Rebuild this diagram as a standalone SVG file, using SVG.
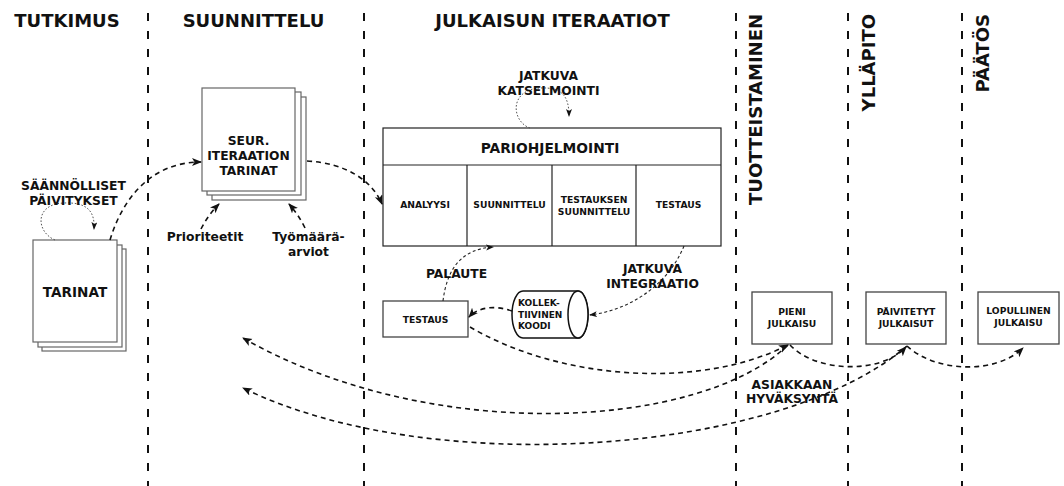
<svg xmlns="http://www.w3.org/2000/svg" width="1064" height="486" viewBox="0 0 1064 486">
<style>
text{font-family:"DejaVu Sans","Verdana",sans-serif;font-weight:bold;fill:#111}
.title{font-size:18px}
.t12{font-size:12.3px;text-anchor:middle}
.t9{font-size:9.2px;text-anchor:middle}
.lane{stroke:#111;stroke-width:2;stroke-dasharray:8,10;fill:none}
.box{fill:#fff;stroke:#444;stroke-width:1.3}
.sheet{fill:#fff;stroke:#666;stroke-width:1.2}
.tbl{fill:#fff;stroke:#222;stroke-width:1.2}
.dash{fill:none;stroke:#111;stroke-width:1.6;stroke-dasharray:5,4;marker-end:url(#ah)}
.fine{fill:none;stroke:#222;stroke-width:1.1;stroke-dasharray:3,2.5;marker-end:url(#ahs)}
.dot{fill:none;stroke:#555;stroke-width:1;stroke-dasharray:1.6,1.8;marker-end:url(#ahs)}
</style>
<defs>
<marker id="ah" markerUnits="userSpaceOnUse" markerWidth="12" markerHeight="10" refX="9" refY="4" orient="auto"><path d="M0,0 L10,4 L0,8 L2.5,4 Z" fill="#111"/></marker>
<marker id="ahs" markerUnits="userSpaceOnUse" markerWidth="10" markerHeight="8" refX="7" refY="3" orient="auto"><path d="M0,0 L8,3 L0,6 L2,3 Z" fill="#111"/></marker>
</defs>
<g id="lanes">
<line class="lane" x1="148" y1="13" x2="148" y2="486"/>
<line class="lane" x1="364" y1="13" x2="364" y2="486"/>
<line class="lane" x1="736" y1="13" x2="736" y2="486"/>
<line class="lane" x1="848" y1="13" x2="848" y2="486"/>
<line class="lane" x1="962" y1="13" x2="962" y2="486"/>
</g>
<g id="titles">
<text class="title" x="67" y="27" text-anchor="middle">TUTKIMUS</text>
<text class="title" x="253.5" y="27" text-anchor="middle">SUUNNITTELU</text>
<text class="title" x="552.5" y="27" text-anchor="middle">JULKAISUN ITERAATIOT</text>
<text class="title" transform="translate(762,14) rotate(-90)" text-anchor="end">TUOTTEISTAMINEN</text>
<text class="title" transform="translate(875,14) rotate(-90)" text-anchor="end">YLLÄPITO</text>
<text class="title" transform="translate(989,14) rotate(-90)" text-anchor="end">PÄÄTÖS</text>
</g>
<g id="tarinat">
<rect class="sheet" x="42" y="249" width="84" height="102"/>
<rect class="sheet" x="38" y="245" width="84" height="102"/>
<rect class="sheet" x="33" y="240" width="84" height="102"/>
<text x="75" y="297" text-anchor="middle" font-size="13.6">TARINAT</text>
</g>
<g id="seur">
<rect class="sheet" x="212" y="97" width="94" height="103"/>
<rect class="sheet" x="207" y="92" width="94" height="103"/>
<rect class="sheet" x="202" y="88" width="93" height="103"/>
<text class="t12" x="248.5" y="145">SEUR.</text>
<text class="t12" x="248.5" y="160">ITERAATION</text>
<text class="t12" x="248.5" y="175">TARINAT</text>
</g>
<g id="pariohjelmointi">
<rect class="tbl" x="383" y="128" width="338" height="118"/>
<line class="tbl" x1="383" y1="165" x2="721" y2="165"/>
<line class="tbl" x1="467" y1="165" x2="467" y2="246"/>
<line class="tbl" x1="552" y1="165" x2="552" y2="246"/>
<line class="tbl" x1="636" y1="165" x2="636" y2="246"/>
<text x="550" y="153" text-anchor="middle" font-size="13.8">PARIOHJELMOINTI</text>
<text class="t9" x="425" y="208">ANALYYSI</text>
<text class="t9" x="509.5" y="208">SUUNNITTELU</text>
<text class="t9" x="594" y="203">TESTAUKSEN</text>
<text class="t9" x="594" y="215">SUUNNITTELU</text>
<text class="t9" x="678.5" y="208">TESTAUS</text>
</g>
<g id="testaus">
<rect class="box" x="383" y="301" width="85" height="36"/>
<text class="t9" x="425.5" y="323">TESTAUS</text>
</g>
<g id="koodi">
<path d="M523,291 L578,291 A10,23.5 0 0 1 578,338 L523,338 A11,23.5 0 0 1 523,291 Z" fill="#fff" stroke="#111" stroke-width="1.5"/>
<ellipse cx="578" cy="314.5" rx="10" ry="23.5" fill="#fff" stroke="#111" stroke-width="1.5"/>
<text x="518" y="306" font-size="9">KOLLEK-</text>
<text x="518" y="317.5" font-size="9">TIIVINEN</text>
<text x="518" y="329" font-size="9">KOODI</text>
</g>
<g id="pieni">
<rect class="box" x="752" y="292" width="80" height="52"/>
<text class="t9" x="792" y="315">PIENI</text>
<text class="t9" x="792" y="327">JULKAISU</text>
</g>
<g id="paivitetyt">
<rect class="box" x="866" y="292" width="80" height="52"/>
<text class="t9" x="906" y="315">PÄIVITETYT</text>
<text class="t9" x="906" y="327">JULKAISUT</text>
</g>
<g id="lopullinen">
<rect class="box" x="978" y="292" width="81" height="52"/>
<text class="t9" x="1018.5" y="314">LOPULLINEN</text>
<text class="t9" x="1018.5" y="326">JULKAISU</text>
</g>
<g id="connectors">
<path class="dot" d="M55,240 C36,232 34,204 64,203 C88,202 95,212 94,229"/>
<path class="dot" d="M530,128 C512,122 508,90 540,88 C562,87 569,96 569,116"/>
<path class="dash" d="M110,240 C122,200 150,162 201,162"/>
<path class="dash" d="M307,161 C345,163 372,180 382,204"/>
<path class="dash" d="M201,229 Q208,215 219,204"/>
<path class="dash" d="M305,228 Q298,214 289,204"/>
<path class="fine" d="M443,301 C447,268 462,249 493,247"/>
<path class="fine" d="M684,246 C668,285 630,310 590,315"/>
<path class="dash" d="M512,311 C495,305 478,307 469,317"/>
<path class="dash" d="M470,327 C560,380 700,390 788,345"/>
<path class="dash" d="M788,345 C700,430 430,445 243,338"/>
<path class="dash" d="M907,346 C780,455 430,480 243,388"/>
<path class="dash" d="M790,345 C815,372 880,375 906,347"/>
<path class="dash" d="M907,346 C935,372 995,375 1023,348"/>
</g>
<g id="labels">
<text class="t12" x="73.5" y="190">SÄÄNNÖLLISET</text>
<text class="t12" x="73.5" y="205">PÄIVITYKSET</text>
<text class="t12" x="205" y="241">Prioriteetit</text>
<text class="t12" x="308.5" y="241">Työmäärä-</text>
<text class="t12" x="308.5" y="256">arviot</text>
<text class="t12" x="548.5" y="80">JATKUVA</text>
<text class="t12" x="548.5" y="95">KATSELMOINTI</text>
<text class="t12" x="456.5" y="278">PALAUTE</text>
<text class="t12" x="652.5" y="273">JATKUVA</text>
<text class="t12" x="652.5" y="288">INTEGRAATIO</text>
<text class="t12" x="792" y="389">ASIAKKAAN</text>
<text class="t12" x="792" y="403">HYVÄKSYNTÄ</text>
</g>
</svg>
